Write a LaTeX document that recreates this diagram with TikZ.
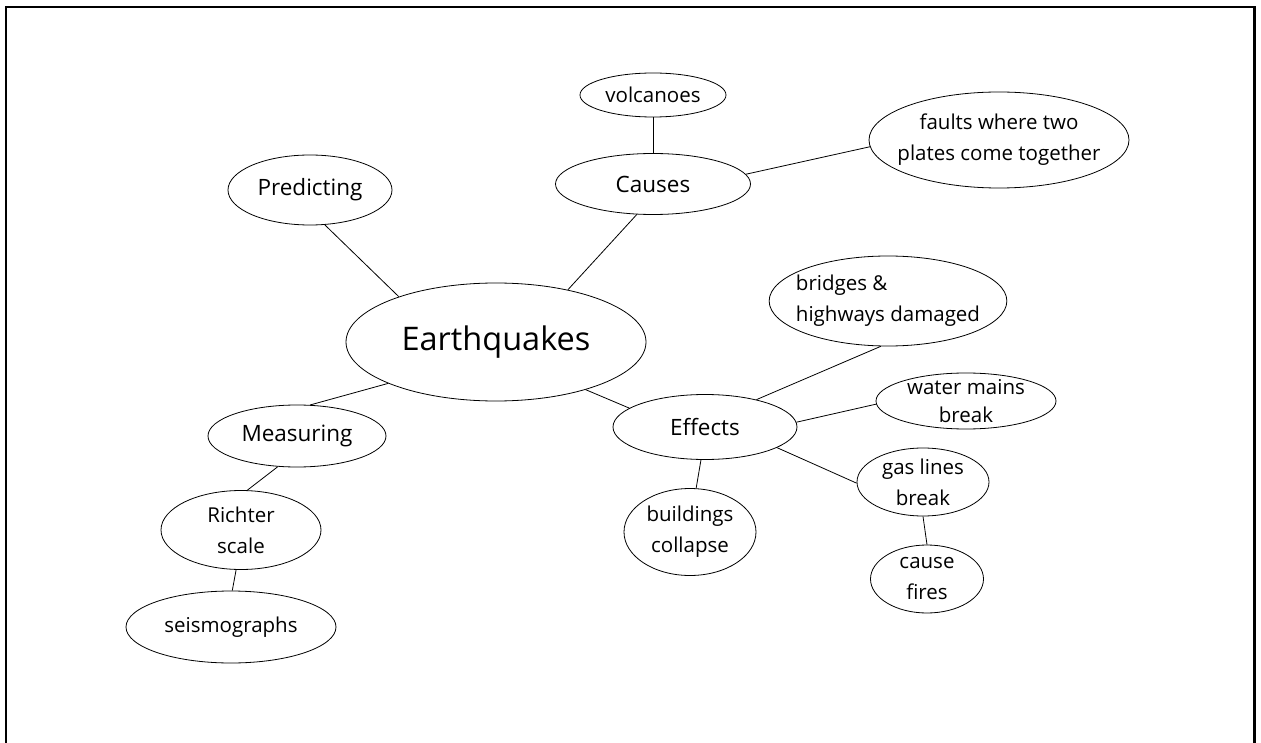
\documentclass[tikz,border=0pt]{standalone}
\usepackage{fontspec}
\setmainfont{Open Sans}
\usetikzlibrary{shapes.geometric}
\tikzset{bubble/.style={draw, ellipse, line width=0.8pt, inner sep=0pt, align=center, font=\fontsize{20.5}{31}\selectfont},
         big/.style={font=\fontsize{22.5}{27}\selectfont},
         link/.style={line width=0.8pt}}

\begin{document}
\begin{tikzpicture}[x=1pt,y=-1pt]
   \useasboundingbox (0,0) rectangle (1261,743);
   \draw[line width=2.5pt] (6,743) -- (6,7) -- (1254.5,7) -- (1254.5,743);
   % centre
   \node[bubble, minimum width=300pt, minimum height=118pt, font=\fontsize{32.5}{38}\selectfont] (eq) at (496,342) {Earthquakes};
   % branches
   \node[bubble, big, minimum width=164pt, minimum height=70pt] (pred) at (310,190) {Predicting};
   \node[bubble, big, minimum width=195pt, minimum height=61pt] (causes) at (653,184) {Causes};
   \node[bubble, minimum width=146pt, minimum height=44pt, inner sep=-3pt] (volc) at (653,95) {volcanoes};
   \node[bubble, minimum width=260pt, minimum height=96pt, inner xsep=-13pt] (faults) at (999,140) {faults where two\\plates come together};
   \node[bubble, big, minimum width=178pt, minimum height=62pt] (meas) at (297,436) {Measuring};
   \node[bubble, minimum width=160pt, minimum height=79pt, inner ysep=-2pt] (richter) at (241,530) {Richter\\scale};
   \node[bubble, minimum width=210pt, minimum height=72pt] (seismo) at (231,627) {seismographs};
   \node[bubble, big, minimum width=184pt, minimum height=65pt] (eff) at (705,427) {Effects};
   \node[bubble, align=left, minimum width=232pt, minimum height=90pt, inner xsep=-8pt, inner ysep=-4pt] (bridges) at (888,301) {bridges \&\\highways damaged};
   \node[bubble, minimum width=180pt, minimum height=56pt, inner ysep=-6pt, font=\fontsize{20.5}{28}\selectfont] (water) at (966,401) {water mains\\break};
   \node[bubble, minimum width=132pt, minimum height=87pt] (build) at (690,532) {buildings\\collapse};
   \node[bubble, minimum width=132pt, minimum height=68pt, inner ysep=-4pt] (gas) at (923,482) {gas lines\\break};
   \node[bubble, minimum width=113pt, minimum height=68pt, inner ysep=-4pt] (fires) at (927,579) {cause\\fires};
   % connectors
   \draw[link] (eq.155) -- (pred.293);
   \draw[link] (eq.36) -- (causes.242);
   \draw[link] (causes.north) -- (volc.south);
   \draw[link] (causes.6) -- (faults.183);
   \draw[link] (eq.201) -- (meas.67);
   \draw[link] (eq.332) -- (eff.166);
   \draw[link] (meas.238) -- (richter.81);
   \draw[link] (richter.263) -- (seismo.88);
   \draw[link] (eff.28) -- (bridges.261);
   \draw[link] (eff.3) -- (water.182);
   \draw[link] (eff.344) -- (gas.181);
   \draw[link] (eff.263) -- (build.82);
   \draw[link] (gas.south) -- (fires.north);
\end{tikzpicture}
\end{document}
